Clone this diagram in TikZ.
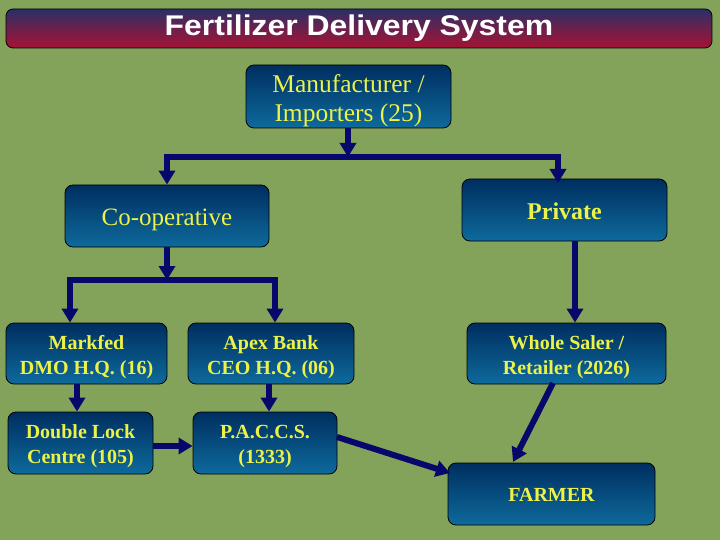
\documentclass[tikz,border=0pt]{standalone}
\usepackage{fontspec}
\usepackage{graphicx}
\setmainfont{Liberation Serif}
\newfontfamily\titlefont{Liberation Sans}
\usetikzlibrary{arrows.meta}
\definecolor{bgc}{RGB}{132,163,90}
\definecolor{boxtop}{RGB}{0,46,96}
\definecolor{boxbot}{RGB}{14,106,156}
\definecolor{txt}{RGB}{236,242,72}
\definecolor{arrc}{RGB}{8,8,108}
\definecolor{ttop}{RGB}{40,48,104}
\definecolor{tbot}{RGB}{165,18,52}
\newcommand\lowtext[2]{\raisebox{-#1}[\height][\depth]{\begin{tabular}{@{}c@{}}#2\end{tabular}}}
\tikzset{
  boxnode/.style={draw=black, line width=0.8pt, rounded corners=8pt,
    top color=boxtop, bottom color=boxbot, text=txt,
    inner sep=0pt, font=\bfseries\fontsize{20}{25}\selectfont},
  bignode/.style={boxnode, font=\fontsize{25.5}{29}\selectfont},
  ln/.style={draw=arrc, line width=6pt, line cap=rect},
  arr/.style={draw=arrc, line width=6pt, -{Triangle[width=16pt,length=14pt]}},
}
\begin{document}
\begin{tikzpicture}[x=1pt,y=-1pt]
\useasboundingbox (0,0) rectangle (720,540);
\fill[bgc] (0,0) rectangle (720,540);
% title
\node[draw=black, line width=0.8pt, rounded corners=7pt, top color=ttop, bottom color=tbot,
  middle color=tbot!55!ttop, minimum width=706pt, minimum height=39pt, inner sep=0pt,
  text=white, font=\titlefont\bfseries\fontsize{28.5}{30}\selectfont] (title) at (359,28.5) {\scalebox{1.12}[1]{Fertilizer Delivery System}};
% boxes
\node[bignode, minimum width=205pt, minimum height=63pt] (man) at (348.5,96.5) {\lowtext{5pt}{Manufacturer /\\Importers (25)}};
\node[bignode, font=\fontsize{25}{29}\selectfont, minimum width=204pt, minimum height=62pt] (coop) at (167,216) {\lowtext{4pt}{Co-operative}};
\node[bignode, font=\bfseries\fontsize{24}{29}\selectfont, minimum width=205pt, minimum height=62pt] (priv) at (564.5,210) {\lowtext{4pt}{Private}};
\node[boxnode, minimum width=161pt, minimum height=61pt] (mark) at (86.5,353.5) {\lowtext{3pt}{Markfed\\DMO H.Q. (16)}};
\node[boxnode, minimum width=166pt, minimum height=61pt] (apex) at (271,353.5) {\lowtext{3pt}{Apex Bank\\CEO H.Q. (06)}};
\node[boxnode, minimum width=145pt, minimum height=62pt] (dlc) at (80.5,443) {\lowtext{3pt}{Double Lock\\Centre (105)}};
\node[boxnode, minimum width=144pt, minimum height=62pt] (pac) at (265,443) {\lowtext{3pt}{P.A.C.C.S.\\(1333)}};
\node[boxnode, minimum width=199pt, minimum height=61pt] (whs) at (566.5,353.5) {\lowtext{3pt}{Whole Saler /\\Retailer (2026)}};
\node[boxnode, minimum width=207pt, minimum height=62pt] (farm) at (551.5,494) {\lowtext{2pt}{FARMER}};
% connectors
\coordinate (j1) at (348,157);
\coordinate (j1L) at (167,157);
\coordinate (j1R) at (558,157);
\coordinate (p1) at (558,183);
\draw[arr] (man.south -| j1) -- (j1);
\draw[ln] (j1L) -- (j1R);
\draw[arr] (j1L) -- (coop.north);
\draw[arr] (j1R) -- (p1);
\coordinate (j2) at (167,280);
\coordinate (j2L) at (70,280);
\coordinate (j2R) at (275,280);
\draw[arr] (coop.south) -- (j2);
\draw[ln] (j2L) -- (j2R);
\draw[arr] (j2L) -- (j2L |- mark.north);
\draw[arr] (j2R) -- (j2R |- apex.north);
\coordinate (m1) at (77,0);
\draw[arr] (m1 |- mark.south) -- (m1 |- dlc.north);
\coordinate (a1) at (269,0);
\draw[arr] (a1 |- apex.south) -- (a1 |- pac.north);
\coordinate (d1) at (0,446);
\draw[arr] (d1 -| dlc.east) -- (d1 -| pac.west);
\coordinate (w1) at (575,0);
\draw[arr] (w1 |- priv.south) -- (w1 |- whs.north);
\coordinate (pf1) at (337,437);
\coordinate (pf2) at (450,473);
\draw[arr] (pf1) -- (pf2);
\coordinate (wf1) at (553,383);
\coordinate (wf2) at (513,462);
\draw[arr] (wf1) -- (wf2);
\end{tikzpicture}
\end{document}
